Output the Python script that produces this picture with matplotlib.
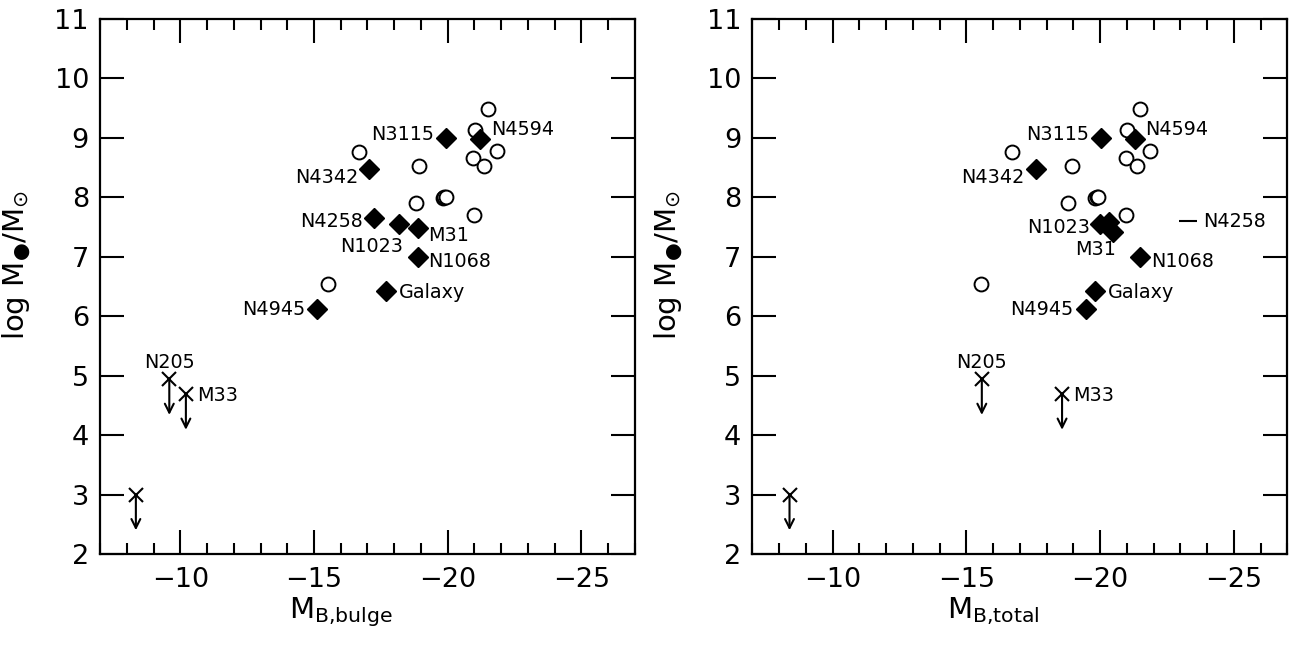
import matplotlib
matplotlib.use('Agg')
import matplotlib.pyplot as plt
from matplotlib.ticker import MultipleLocator

plt.rcParams['font.family'] = 'DejaVu Sans'
plt.rcParams['mathtext.fontset'] = 'dejavusans'

# --- data ---
# elliptical galaxies (open circles): bulge magnitude == total magnitude
ell_mb = [-21.49, -21.01, -21.85, -20.96, -21.37, -16.70, -18.94,
          -19.83, -19.87, -19.92, -18.80, -20.98, -15.54]
ell_logm = [9.48, 9.13, 8.78, 8.67, 8.52, 8.77, 8.53,
            7.99, 8.01, 8.00, 7.90, 7.70, 6.54]

# disk galaxies (filled diamonds)
disk_names = ['N3115', 'N4594', 'N4342', 'N4258', 'N1023', 'M31', 'N1068', 'Galaxy', 'N4945']
disk_mb_bulge = [-19.94, -21.22, -17.06, -17.25, -18.19, -18.87, -18.87, -17.69, -15.12]
disk_logm_bulge = [9.00, 8.99, 8.47, 7.65, 7.55, 7.48, 7.00, 6.42, 6.13]

disk_names_tot = ['N3115', 'N4594', 'N4342', 'N1023', '', 'M31', 'N1068', 'Galaxy', 'N4945']
disk_mb_total = [-20.05, -21.31, -17.59, -20.00, -20.35, -20.47, -21.48, -19.80, -19.49]
disk_logm_total = [9.00, 8.99, 8.47, 7.56, 7.59, 7.42, 7.00, 6.42, 6.13]

# N4258 on the total panel drawn as a bar marker
n4258_mb_total = -23.28
n4258_logm_total = 7.61

# upper limits (crosses with arrows)
lim_names = ['N205', 'M33', '']
lim_mb_bulge = [-9.59, -10.21, -8.34]
lim_mb_total = [-15.58, -18.58, -8.39]
lim_logm = [4.94, 4.69, 3.00]

# label offsets in pixels (dx, dy, ha)
off_bulge = {'N3115': (-12, 5, 'right'), 'N4594': (11, 10, 'left'), 'N4342': (-11, -7, 'right'),
             'N4258': (-11, -2, 'right'), 'N1023': (4, -21, 'right'), 'M31': (11, -6, 'left'),
             'N1068': (11, -3, 'left'), 'Galaxy': (13, 0, 'left'), 'N4945': (-12, 0, 'right'),
             'N205': (0, 18, 'center'), 'M33': (11, 0, 'left')}
off_total = {'N3115': (-12, 5, 'right'), 'N4594': (10, 10, 'left'), 'N4342': (-11, -7, 'right'),
             'N1023': (-10, -3, 'right'), 'M31': (3, -16, 'right'), 'N1068': (11, -3, 'left'),
             'Galaxy': (13, 0, 'left'), 'N4945': (-13, 0, 'right'), 'N4258': (15, 0, 'left'),
             'N205': (0, 18, 'center'), 'M33': (11, 0, 'left')}

PX = 0.72  # points per pixel at dpi 100
LBL_FS = 13.8


def label(ax, name, x, y, offs):
    if not name:
        return
    dx, dy, ha = offs[name]
    ax.annotate(name, xy=(x, y), xytext=(dx * PX, (dy - 6.8) * PX), textcoords='offset points',
                ha=ha, va='baseline', fontsize=LBL_FS)


def style_axes(ax, xlabel):
    ax.set_xlim(-7, -27)
    ax.set_ylim(2, 11)
    ax.xaxis.set_major_locator(MultipleLocator(5))
    ax.xaxis.set_minor_locator(MultipleLocator(1))
    ax.yaxis.set_major_locator(MultipleLocator(1))
    ax.tick_params(which='both', direction='in', top=True, right=True, width=1.5, labelsize=19.5)
    ax.tick_params(which='major', length=17, pad=8)
    ax.tick_params(which='minor', length=8)
    ax.tick_params(axis='x', which='major', pad=9)
    for s in ax.spines.values():
        s.set_linewidth(1.6)
    ax.set_xlabel(xlabel, fontsize=21)
    ax.xaxis.set_label_coords(0.45, -0.078)
    ax.set_ylabel('log M$_{\u25cf}$/M$_{\\odot}$', fontsize=21)
    ax.yaxis.set_label_coords(-0.125, 0.54)


def draw_limits(ax, xs):
    for name, x, y in zip(lim_names, xs, lim_logm):
        ax.plot(x, y, marker='x', color='k', ms=9.5, mew=1.5, ls='none')
        ax.annotate('', xy=(x, y - 0.6), xytext=(x, y),
                    arrowprops=dict(arrowstyle='->', lw=1.5, color='k', shrinkA=0, shrinkB=0,
                                    mutation_scale=16))


fig = plt.figure(figsize=(12.94, 6.47), dpi=100)
axL = fig.add_axes([0.0773, 0.1437, 0.4134, 0.8269])
axR = fig.add_axes([0.5814, 0.1437, 0.4134, 0.8269])

# left panel: bulge magnitude
axL.plot(ell_mb, ell_logm, 'o', mfc='white', mec='k', mew=1.4, ms=10, ls='none', zorder=2)
axL.plot(disk_mb_bulge, disk_logm_bulge, 'D', color='k', ms=10, ls='none', zorder=3)
for n, x, y in zip(disk_names, disk_mb_bulge, disk_logm_bulge):
    label(axL, n, x, y, off_bulge)
draw_limits(axL, lim_mb_bulge)
for n, x, y in zip(lim_names, lim_mb_bulge, lim_logm):
    label(axL, n, x, y, off_bulge)
style_axes(axL, 'M$_{\\mathrm{B{,}bulge}}$')

# right panel: total magnitude
axR.plot(ell_mb, ell_logm, 'o', mfc='white', mec='k', mew=1.4, ms=10, ls='none', zorder=2)
axR.plot(disk_mb_total, disk_logm_total, 'D', color='k', ms=10, ls='none', zorder=3)
for n, x, y in zip(disk_names_tot, disk_mb_total, disk_logm_total):
    label(axR, n, x, y, off_total)
axR.plot(n4258_mb_total, n4258_logm_total, marker='_', color='k', ms=13, mew=1.5, ls='none')
label(axR, 'N4258', n4258_mb_total, n4258_logm_total, off_total)
draw_limits(axR, lim_mb_total)
for n, x, y in zip(lim_names, lim_mb_total, lim_logm):
    label(axR, n, x, y, off_total)
style_axes(axR, 'M$_{\\mathrm{B{,}total}}$')

fig.savefig('out.png', dpi=100, facecolor='white')
